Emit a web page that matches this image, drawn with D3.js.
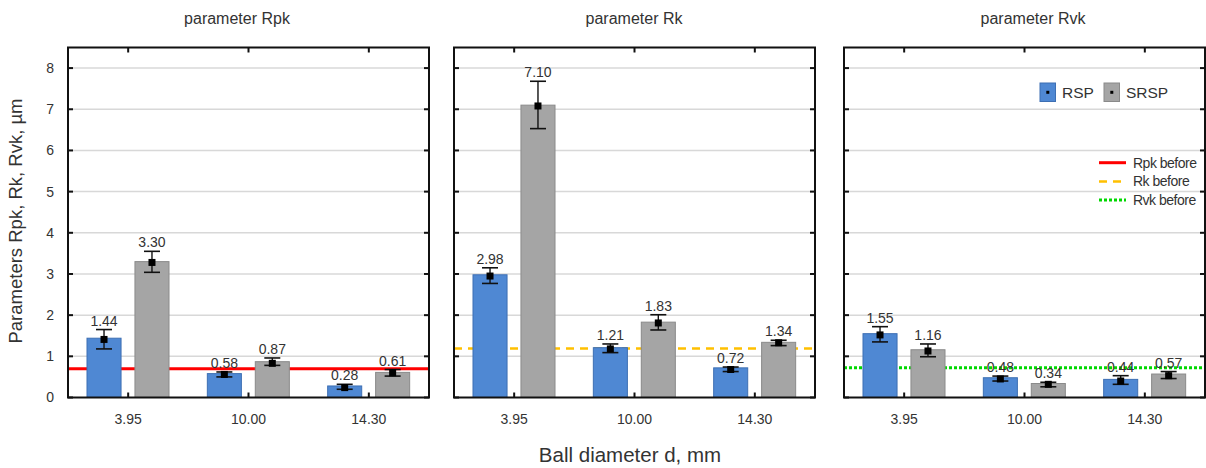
<!DOCTYPE html>
<html>
<head>
<meta charset="utf-8">
<script src="https://cdn.jsdelivr.net/npm/d3@7"></script>
<style>
  html, body { margin: 0; padding: 0; background: #fff; }
  svg { display: block; font-family: "Liberation Sans", Arial, sans-serif; }
</style>
</head>
<body>
<svg id="chart" width="1206" height="468"></svg>
<script>
// ---------- data ----------
const categories = ["3.95", "10.00", "14.30"];
const panelTitles = ["parameter Rpk", "parameter Rk", "parameter Rvk"];
const seriesNames = ["RSP", "SRSP"];
// bar heights (labelled values) per panel
const rspValues  = [[1.44, 0.58, 0.28], [2.98, 1.21, 0.72], [1.55, 0.48, 0.44]];
const srspValues = [[3.30, 0.87, 0.61], [7.10, 1.83, 1.34], [1.16, 0.34, 0.57]];
// mean markers and error-bar limits
const rspMean  = [[1.41, 0.56, 0.24], [2.95, 1.18, 0.68], [1.52, 0.45, 0.40]];
const rspLow   = [[1.18, 0.50, 0.20], [2.77, 1.09, 0.63], [1.35, 0.40, 0.32]];
const rspHigh  = [[1.65, 0.62, 0.32], [3.15, 1.30, 0.74], [1.72, 0.52, 0.53]];
const srspMean = [[3.28, 0.83, 0.60], [7.08, 1.81, 1.33], [1.13, 0.32, 0.53]];
const srspLow  = [[3.04, 0.78, 0.52], [6.53, 1.64, 1.26], [0.99, 0.26, 0.46]];
const srspHigh = [[3.55, 0.96, 0.68], [7.68, 2.01, 1.39], [1.30, 0.37, 0.63]];
// reference levels before processing
const beforeNames  = ["Rpk before", "Rk before", "Rvk before"];
const beforeValues = [0.70, 1.19, 0.72];
const yTicks = [0, 1, 2, 3, 4, 5, 6, 7, 8];

// ---------- styles / layout ----------
const colors = { RSP: "#4f88d3", SRSP: "#a5a5a5" };
const strokes = { RSP: "#3d6fb3", SRSP: "#8a8a8a" };
const beforeStyle = [
  { color: "#ff0000", dash: null, width: 3 },
  { color: "#ffc000", dash: "8,6", width: 2.5 },
  { color: "#00d800", dash: "3,2", width: 3 }
];
const panelLeft = [68, 454, 844];
const panelW = 361;
const plotTop = 47.5, plotBottom = 397.5;
const titleX = [237, 634, 1033];

const svg = d3.select("#chart");
const y = d3.scaleLinear().domain([0, 8.5]).range([plotBottom, plotTop]);

panelTitles.forEach((title, p) => {
  const left = panelLeft[p];
  const right = left + panelW;
  const g = svg.append("g");

  const x0 = d3.scaleBand().domain(categories).range([left, right]).padding(0);
  const x1 = d3.scaleBand().domain(seriesNames).range([19, 101])
    .paddingInner(0.29).paddingOuter(0);

  // gridlines
  g.selectAll(".grid").data(yTicks.filter(t => t > 0)).enter().append("line")
    .attr("x1", left).attr("x2", right)
    .attr("y1", d => y(d)).attr("y2", d => y(d))
    .attr("stroke", "#d8d8d8").attr("stroke-width", 1.5);

  // reference line
  const bs = beforeStyle[p];
  g.append("line")
    .attr("x1", left).attr("x2", right)
    .attr("y1", y(beforeValues[p])).attr("y2", y(beforeValues[p]))
    .attr("stroke", bs.color).attr("stroke-width", bs.width)
    .attr("stroke-dasharray", bs.dash);

  const rows = [];
  categories.forEach((c, i) => {
    rows.push({ cat: c, s: "RSP", v: rspValues[p][i], m: rspMean[p][i], lo: rspLow[p][i], hi: rspHigh[p][i] });
    rows.push({ cat: c, s: "SRSP", v: srspValues[p][i], m: srspMean[p][i], lo: srspLow[p][i], hi: srspHigh[p][i] });
  });
  const cx = d => x0(d.cat) + x1(d.s) + x1.bandwidth() / 2;

  // bars
  g.selectAll(".bar").data(rows).enter().append("rect")
    .attr("x", d => x0(d.cat) + x1(d.s))
    .attr("width", x1.bandwidth())
    .attr("y", d => y(d.v))
    .attr("height", d => y(0) - y(d.v))
    .attr("fill", d => colors[d.s])
    .attr("stroke", d => strokes[d.s]).attr("stroke-width", 1);

  // error bars
  const eb = g.selectAll(".err").data(rows).enter().append("g");
  eb.append("line").attr("x1", cx).attr("x2", cx)
    .attr("y1", d => y(d.lo)).attr("y2", d => y(d.hi))
    .attr("stroke", "#111").attr("stroke-width", 1.4);
  eb.append("line").attr("x1", d => cx(d) - 8).attr("x2", d => cx(d) + 8)
    .attr("y1", d => y(d.hi)).attr("y2", d => y(d.hi))
    .attr("stroke", "#111").attr("stroke-width", 1.6);
  eb.append("line").attr("x1", d => cx(d) - 8).attr("x2", d => cx(d) + 8)
    .attr("y1", d => y(d.lo)).attr("y2", d => y(d.lo))
    .attr("stroke", "#111").attr("stroke-width", 1.6);
  eb.append("rect").attr("x", d => cx(d) - 3.5).attr("y", d => y(d.m) - 3.5)
    .attr("width", 7).attr("height", 7).attr("fill", "#000");

  // value labels
  g.selectAll(".val").data(rows).enter().append("text")
    .attr("x", cx).attr("y", d => y(d.hi) - 4)
    .attr("text-anchor", "middle").attr("font-size", 14).attr("fill", "#333")
    .text(d => d.v.toFixed(2));

  // frame
  g.append("rect").attr("x", left).attr("y", plotTop).attr("width", panelW).attr("height", plotBottom - plotTop)
    .attr("fill", "none").attr("stroke", "#111").attr("stroke-width", 2);

  // y ticks (inward, both sides)
  yTicks.forEach(t => {
    g.append("line").attr("x1", left).attr("x2", left + 5).attr("y1", y(t)).attr("y2", y(t))
      .attr("stroke", "#111").attr("stroke-width", 2);
    g.append("line").attr("x1", right - 5).attr("x2", right).attr("y1", y(t)).attr("y2", y(t))
      .attr("stroke", "#111").attr("stroke-width", 2);
  });
  // x ticks (inward, top and bottom)
  categories.forEach(c => {
    const xc = x0(c) + x0.bandwidth() / 2;
    g.append("line").attr("x1", xc).attr("x2", xc).attr("y1", plotTop).attr("y2", plotTop + 5)
      .attr("stroke", "#111").attr("stroke-width", 2);
    g.append("line").attr("x1", xc).attr("x2", xc).attr("y1", plotBottom - 5).attr("y2", plotBottom)
      .attr("stroke", "#111").attr("stroke-width", 2);
  });

  // x tick labels
  const xAxis = d3.axisBottom(x0).tickSize(0).tickPadding(17);
  const ax = g.append("g").attr("transform", `translate(0,${plotBottom})`).call(xAxis);
  ax.select(".domain").remove();
  ax.selectAll("text").attr("font-size", 14).attr("fill", "#333")
    .attr("font-family", "Liberation Sans, Arial, sans-serif");

  // y tick labels (first panel only)
  if (p === 0) {
    const yAxis = d3.axisLeft(y).tickValues(yTicks).tickSize(0).tickPadding(14)
      .tickFormat(d3.format("d"));
    const ay = g.append("g").attr("transform", `translate(${left},0)`).call(yAxis);
    ay.select(".domain").remove();
    ay.selectAll("text").attr("font-size", 14).attr("fill", "#333")
      .attr("font-family", "Liberation Sans, Arial, sans-serif");
  }

  // title
  svg.append("text").attr("x", titleX[p]).attr("y", 24)
    .attr("text-anchor", "middle").attr("font-size", 16).attr("fill", "#333")
    .text(title);
});

// axis titles
svg.append("text")
  .attr("transform", "translate(22,221) rotate(-90)")
  .attr("text-anchor", "middle").attr("font-size", 18.5).attr("fill", "#333")
  .text("Parameters Rpk, Rk, Rvk, µm");
svg.append("text")
  .attr("x", 630).attr("y", 462)
  .attr("text-anchor", "middle").attr("font-size", 20.5).attr("fill", "#333")
  .text("Ball diameter d, mm");

// legend: series
const legX = [1040, 1104];
seriesNames.forEach((s, i) => {
  svg.append("rect").attr("x", legX[i]).attr("y", 83).attr("width", 15.5).attr("height", 18.5)
    .attr("fill", colors[s]).attr("stroke", strokes[s]).attr("stroke-width", 1);
  svg.append("rect").attr("x", legX[i] + 6.3).attr("y", 90.8).attr("width", 3).attr("height", 3).attr("fill", "#000");
  svg.append("text").attr("x", legX[i] + 22).attr("y", 97.5).attr("font-size", 15.5).attr("fill", "#333").text(s);
});

// legend: before lines
beforeNames.forEach((n, i) => {
  const ly = 162.7 + i * 18.7;
  const bs = beforeStyle[i];
  svg.append("line").attr("x1", 1099).attr("x2", 1126).attr("y1", ly).attr("y2", ly)
    .attr("stroke", bs.color).attr("stroke-width", bs.width).attr("stroke-dasharray", bs.dash);
  svg.append("text").attr("x", 1133).attr("y", ly + 5).attr("font-size", 14)
    .attr("letter-spacing", -0.5).attr("fill", "#333").text(n);
});
</script>
</body>
</html>
